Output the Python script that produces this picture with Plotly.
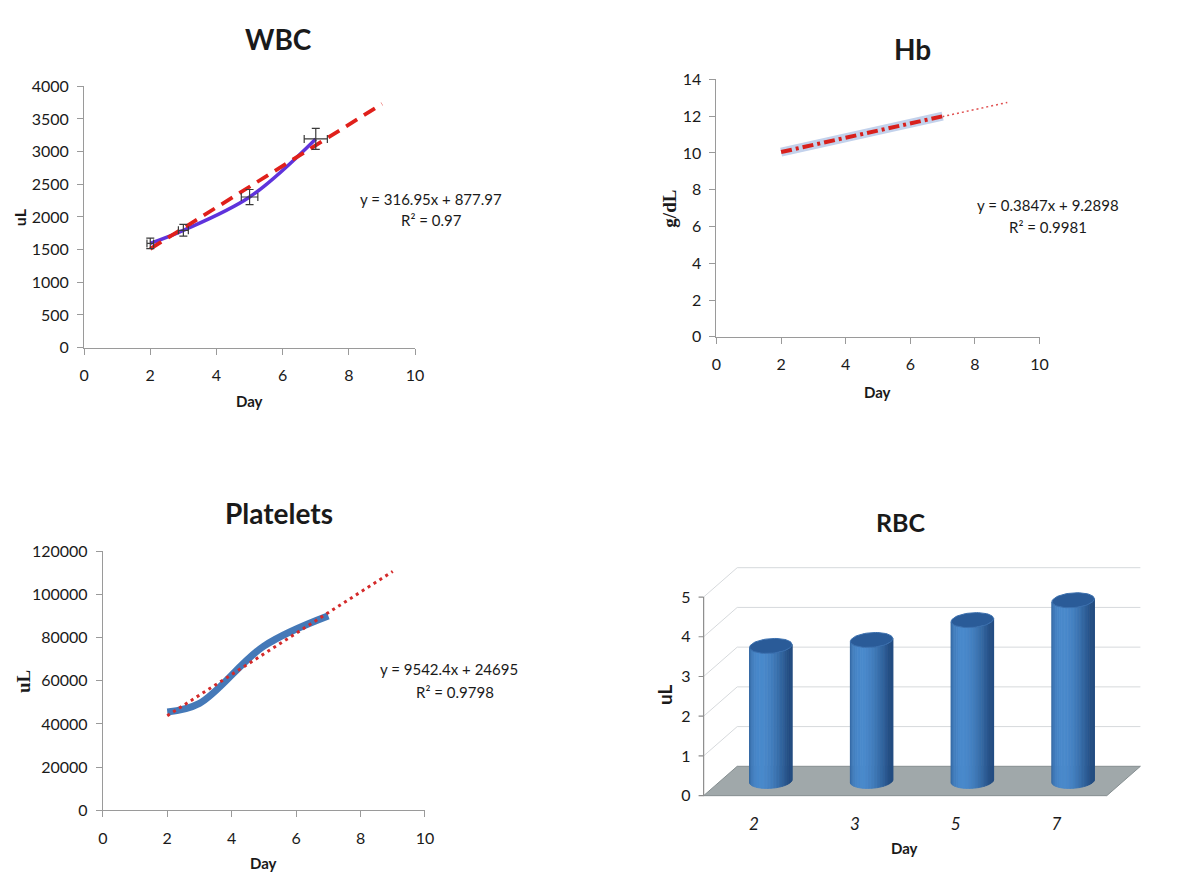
import numpy as np
import plotly.graph_objects as go

W, H = 1182, 880

# ---------------- data ----------------
days = [2, 3, 5, 7]

wbc_values = [1595, 1795, 2305, 3195]
wbc_err_pct = 5
wbc_trend_x = [2, 9]
wbc_trend_y = [1512, 3731]
wbc_eq = "y = 316.95x + 877.97"
wbc_r2 = "R² = 0.97"

hb_values = [10.05, 10.45, 11.2, 12.0]
hb_trend_x = [2, 9]
hb_trend_y = [10.06, 12.75]
hb_eq = "y = 0.3847x + 9.2898"
hb_r2 = "R² = 0.9981"

plt_values = [45500, 49500, 76000, 90000]
plt_trend_x = [2, 9]
plt_trend_y = [43780, 110577]
plt_eq = "y = 9542.4x + 24695"
plt_r2 = "R² = 0.9798"

rbc_days = ["2", "3", "5", "7"]
rbc_values = [3.4, 3.55, 4.05, 4.55]
rbc_ticks = [0, 1, 2, 3, 4, 5]

# ---------------- style ----------------
FONT = "Lato, 'Open Sans', sans-serif"
SERIF = "'Liberation Serif', 'DejaVu Serif', serif"
TXT = "#1a1a1a"
AX = "#9a9a9a"


def pxx(p):
    return p / W


def pxy(p):
    return 1 - p / H


fig = go.Figure()

# ---------------- WBC (x, y) ----------------
fig.add_trace(go.Scatter(x=days, y=wbc_values, mode="lines", line=dict(color="#5f33dc", width=3.5, shape="spline"),
                         xaxis="x", yaxis="y", hoverinfo="skip"))
fig.add_trace(go.Scatter(x=wbc_trend_x, y=wbc_trend_y, mode="lines",
                         line=dict(color="#e0201b", width=3.8, dash="13px,8px"), xaxis="x", yaxis="y"))
fig.add_trace(go.Scatter(x=days, y=wbc_values, mode="markers", marker=dict(size=1, color="rgba(0,0,0,0)"),
                         error_y=dict(type="percent", value=wbc_err_pct, color="#3a3a3a", thickness=1.2, width=4),
                         error_x=dict(type="percent", value=wbc_err_pct, color="#3a3a3a", thickness=1.2, width=4),
                         xaxis="x", yaxis="y"))

# ---------------- Hb (x2, y2) ----------------
fig.add_trace(go.Scatter(x=hb_trend_x, y=hb_trend_y, mode="lines",
                         line=dict(color="#e05050", width=1.5, dash="2px,3px"), xaxis="x2", yaxis="y2"))
fig.add_trace(go.Scatter(x=days, y=hb_values, mode="lines", line=dict(color="#c3d2ec", width=9),
                         xaxis="x2", yaxis="y2"))
fig.add_trace(go.Scatter(x=days, y=hb_values, mode="lines",
                         line=dict(color="#d8201c", width=4, dash="11px,4px,3px,4px"), xaxis="x2", yaxis="y2"))

# ---------------- Platelets (x3, y3) ----------------
fig.add_trace(go.Scatter(x=days, y=plt_values, mode="lines", line=dict(color="#4579b8", width=7, shape="spline"),
                         xaxis="x3", yaxis="y3"))
fig.add_trace(go.Scatter(x=plt_trend_x, y=plt_trend_y, mode="lines",
                         line=dict(color="#d42a2a", width=3, dash="3px,4px"), xaxis="x3", yaxis="y3"))

# ---------------- RBC pseudo-3D (x4, y4) ----------------
UNIT_PX = 102.0      # pixels per category step
VAL_PX = 40.6        # pixels per value unit
DX = 34 / UNIT_PX    # depth offset (x units)
DY = 30 / VAL_PX     # depth offset (value units)
XR = [-0.56, 3.5 + DX + 0.02]
YR = [-0.1, 5.8]
X_LEFT_PX = 707 + (XR[0] + 0.5) * UNIT_PX
X_RIGHT_PX = 707 + (XR[1] + 0.5) * UNIT_PX
Y_BOT_PX = 803 - YR[0] * VAL_PX
Y_TOP_PX = 803 - YR[1] * VAL_PX
x0, x1 = -0.5, len(rbc_days) - 0.5

# back wall grid lines
gx, gy = [], []
for k in rbc_ticks[1:]:
    gx += [x0, x0 + DX, x1 + DX, None]
    gy += [k, k + DY, k + DY, None]
fig.add_trace(go.Scatter(x=gx, y=gy, mode="lines", line=dict(color="#d6d9dc", width=1),
                         xaxis="x4", yaxis="y4"))
# floor
fig.add_trace(go.Scatter(x=[x0, x1, x1 + DX, x0 + DX, x0], y=[0, 0, DY, DY, 0], mode="lines", fill="toself",
                         fillcolor="#a0a8aa", line=dict(color="#858e90", width=1), xaxis="x4", yaxis="y4"))
# front axis line + ticks
ax_x, ax_y = [x0, x0, None], [0, rbc_ticks[-1], None]
for k in rbc_ticks:
    ax_x += [x0 - 0.05, x0, None]
    ax_y += [k, k, None]
fig.add_trace(go.Scatter(x=ax_x, y=ax_y, mode="lines", line=dict(color="#8c8c8c", width=1.2),
                         xaxis="x4", yaxis="y4"))

# cylinders, built as shaded vertical strips
A = 21.5 / UNIT_PX
B = 7.5 / VAL_PX
TILT = 0.17
NS = 22
dark = np.array([26, 62, 112])
light = np.array([74, 138, 204])
for j in range(NS):
    p0 = np.pi - j * np.pi / NS
    p1 = np.pi - (j + 1) * np.pi / NS
    pm = 0.5 * (p0 + p1)
    inten = max(0.0, -0.45 * np.cos(pm) + 0.89 * np.sin(pm))
    inten = 0.2 + 0.8 * inten ** 1.5
    c = dark + (light - dark) * inten
    col = "rgb(%d,%d,%d)" % tuple(c.astype(int))
    sx, sy = [], []
    for i, v in enumerate(rbc_values):
        cx = i + DX / 2
        cb = DY / 2
        ct = v + DY / 2
        t = np.linspace(p0, p1, 5)
        bx = cx + A * np.cos(t)
        by = cb - B * np.sin(t) + TILT * A * np.cos(t)
        tt = t[::-1]
        tx = cx + A * np.cos(tt)
        ty = ct - B * np.sin(tt) + TILT * A * np.cos(tt)
        sx += list(bx) + list(tx) + [bx[0], None]
        sy += list(by) + list(ty) + [by[0], None]
    fig.add_trace(go.Scatter(x=sx, y=sy, mode="lines", fill="toself", fillcolor=col,
                             line=dict(color=col, width=0.8), xaxis="x4", yaxis="y4"))
# tops
tx_all, ty_all = [], []
for i, v in enumerate(rbc_values):
    cx = i + DX / 2
    ct = v + DY / 2
    t = np.linspace(0, 2 * np.pi, 60)
    tx_all += list(cx + A * np.cos(t)) + [None]
    ty_all += list(ct + B * np.sin(t) + TILT * A * np.cos(t)) + [None]
fig.add_trace(go.Scatter(x=tx_all, y=ty_all, mode="lines", fill="toself", fillcolor="#2a5b98",
                         line=dict(color="#3a6fae", width=1), xaxis="x4", yaxis="y4"))


# ---------------- axes ----------------
def lin_axis(dom, rng, dtick, anchor, standoff=6):
    return dict(domain=dom, range=rng, dtick=dtick, tick0=0, showline=True, linecolor=AX, linewidth=1,
                ticks="outside", ticklen=6, tickcolor=AX, showgrid=False, zeroline=False,
                tickfont=dict(family=FONT, size=16, color=TXT), anchor=anchor, fixedrange=True,
                ticklabelstandoff=standoff, tickformat="d")


layout = dict(
    width=W, height=H, margin=dict(l=0, r=0, t=0, b=0), paper_bgcolor="white", plot_bgcolor="white",
    showlegend=False,
    xaxis=lin_axis([pxx(80), pxx(415)], [0, 10], 2, "y", 7),
    yaxis=lin_axis([pxy(345), pxy(78)], [0, 4000], 500, "x", 5),
    xaxis2=lin_axis([pxx(720), pxx(1047)], [0, 10], 2, "y2", 7),
    yaxis2=lin_axis([pxy(334), pxy(71)], [0, 14], 2, "x2", 5),
    xaxis3=lin_axis([pxx(99), pxx(425)], [0, 10], 2, "y3", 7),
    yaxis3=lin_axis([pxy(818), pxy(553)], [0, 120000], 20000, "x3", 5),
    xaxis4=dict(domain=[pxx(X_LEFT_PX), pxx(X_RIGHT_PX)], range=XR, showline=False, showgrid=False,
                zeroline=False, ticks="", tickvals=list(range(len(rbc_days))), ticktext=rbc_days,
                tickfont=dict(family=FONT, size=17, color=TXT, style="italic"), anchor="y4",
                fixedrange=True, ticklabelstandoff=12),
    yaxis4=dict(domain=[pxy(Y_BOT_PX), pxy(Y_TOP_PX)], range=YR, showline=False, showgrid=False,
                zeroline=False, ticks="", tickvals=rbc_ticks, tickfont=dict(family=FONT, size=16, color=TXT),
                anchor="x4", fixedrange=True, ticklabelstandoff=6),
)
fig.update_layout(**layout)


def ann(text, x, y, size, family=FONT, bold=False, angle=0, color=TXT):
    t = "<b>%s</b>" % text if bold else text
    fig.add_annotation(text=t, x=pxx(x), y=pxy(y), xref="paper", yref="paper", showarrow=False,
                       xanchor="center", yanchor="middle", textangle=angle,
                       font=dict(family=family, size=size, color=color))


# titles
ann("WBC", 277, 30, 28, bold=True)
ann("Hb", 918, 40, 28, bold=True)
ann("Platelets", 277, 514, 28, bold=True)
ann("RBC", 907, 523, 25, bold=True)
# axis titles
ann("Day", 247, 400, 15, bold=True)
ann("Day", 883, 390, 15, bold=True)
ann("Day", 262, 872, 15, bold=True)
ann("Day", 910, 856, 15, bold=True)
ann("uL", 15, 212, 16, bold=True, angle=-90)
ann("g/dL", 673, 203, 19, family=SERIF, bold=True, angle=-90)
ann("uL", 18, 686, 19, family=SERIF, bold=True, angle=-90)
ann("uL", 668, 700, 19, bold=True, angle=-90)
# equations
ann(wbc_eq, 431, 193, 15)
ann(wbc_r2, 432, 215, 15)
ann(hb_eq, 1055, 199, 15)
ann(hb_r2, 1055, 222, 15)
ann(plt_eq, 449, 674, 15)
ann(plt_r2, 455, 697, 15)

fig.write_html("out.html", post_script="document.body.style.margin='0';document.body.style.overflow='hidden';")
